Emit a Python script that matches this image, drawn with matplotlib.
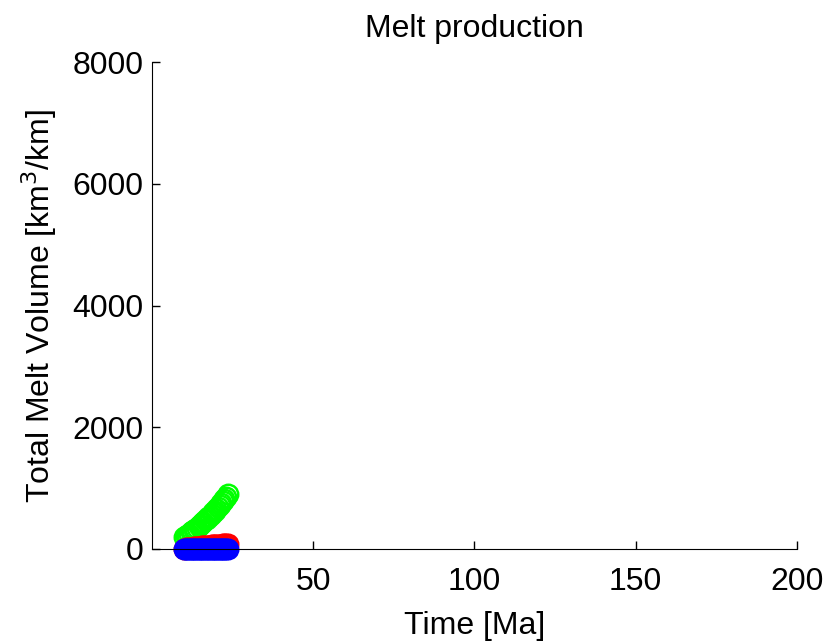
import numpy as np
import matplotlib
matplotlib.use('Agg')
import matplotlib.pyplot as plt

plt.rcParams['font.family'] = ['Liberation Sans', 'DejaVu Sans']

# time steps [Ma]
time = [10.0, 10.5, 11.0, 11.5, 12.0, 12.5, 13.0, 13.5, 14.0, 14.5,
        15.0, 15.5, 16.0, 16.5, 17.0, 17.5, 18.0, 18.5, 19.0, 19.5,
        20.0, 20.5, 21.0, 21.5, 22.0, 22.5, 23.0, 23.5]
# melt volumes [km^3/km]
melt_green = [190, 210, 230, 250, 270, 290, 310, 330, 350, 370,
              395, 420, 445, 470, 495, 520, 545, 570, 600, 630,
              660, 690, 720, 755, 790, 825, 860, 900]
melt_red = [5, 8, 12, 15, 18, 22, 25, 28, 32, 35,
            38, 41, 44, 47, 50, 53, 56, 59, 62, 64,
            66, 68, 70, 72, 74, 75, 76, 78]
melt_blue = [0, 0, 0, 0, 0, 0, 0, 0, 0, 0,
             0, 0, 0, 0, 0, 1, 1, 1, 1, 1,
             1, 1, 2, 2, 2, 2, 2, 2]

fig = plt.figure(figsize=(8.3, 6.42), dpi=100)
ax = fig.add_axes([0.183, 0.145, 0.777, 0.758])

for vals, col in [(melt_green, (0, 1, 0)), (melt_red, (1, 0, 0)), (melt_blue, (0, 0, 1))]:
    ax.plot(time, vals, 'o', markersize=14, markerfacecolor='none',
            markeredgecolor=col, markeredgewidth=1.8, clip_on=False)

ax.set_xlim(0, 200)
ax.set_ylim(0, 8000)
ax.set_xticks([50, 100, 150, 200])
ax.set_yticks([0, 2000, 4000, 6000, 8000])
ax.tick_params(direction='in', labelsize=23, length=6, width=1)
ax.tick_params(axis='x', pad=13)
ax.tick_params(axis='y', pad=6)
for s in ['top', 'right']:
    ax.spines[s].set_visible(False)

ax.set_xlabel('Time [Ma]', fontsize=23, labelpad=10)
ax.set_ylabel('Total Melt Volume [km$^3$/km]', fontsize=23, labelpad=10)
ax.set_title('Melt production', fontsize=23, pad=18)

fig.savefig('out.png', dpi=100)
